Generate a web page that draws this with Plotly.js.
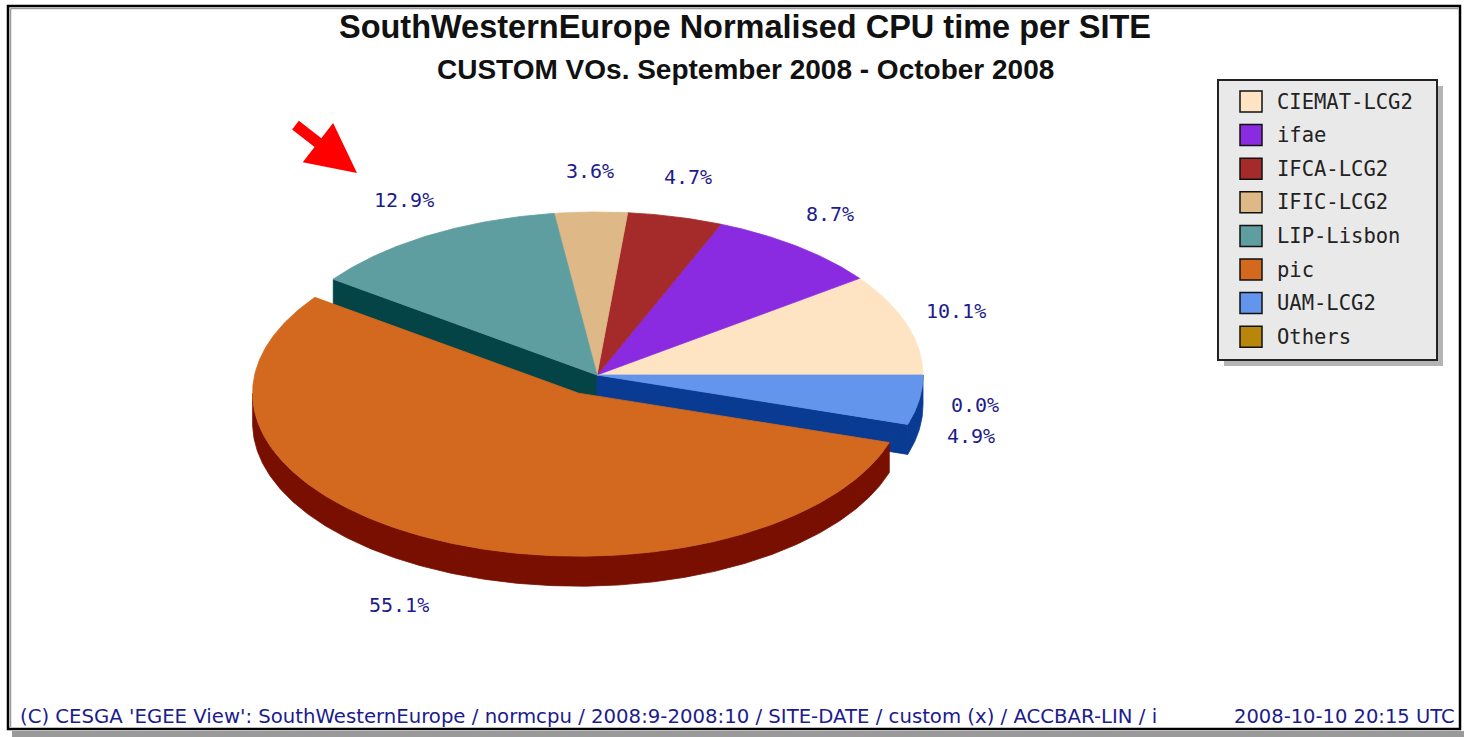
<!DOCTYPE html>
<html>
<head>
<meta charset="utf-8">
<script src="https://cdn.plot.ly/plotly-3.0.1.min.js"></script>
<style>html,body{margin:0;padding:0;background:#fff;}#chart{width:1464px;height:737px;}</style>
</head>
<body>
<div id="chart"></div>
<script>
// ---- data ----
const categories = ['CIEMAT-LCG2', 'ifae', 'IFCA-LCG2', 'IFIC-LCG2', 'LIP-Lisbon', 'pic', 'UAM-LCG2', 'Others'];
const percentValues = [10.1, 8.7, 4.7, 3.6, 12.9, 55.1, 4.9, 0.0];
const sliceColors = ['#ffe4c4', '#8a2be2', '#a52a2a', '#deb887', '#5f9ea0', '#d2691e', '#6495ed', '#b8860b'];
const explodedSlice = 'pic';
const titleText = 'SouthWesternEurope Normalised CPU time per SITE';
const subtitleText = 'CUSTOM VOs. September 2008 - October 2008';
const footerLeft = "(C) CESGA 'EGEE View': SouthWesternEurope / normcpu / 2008:9-2008:10 / SITE-DATE / custom (x) / ACCBAR-LIN / i";
const footerRight = '2008-10-10 20:15 UTC';

// ---- geometry (style) ----
const W = 1464, H = 737;
const CX = 597, CY = 375, RX = 326, RY = 163, DEPTH = 30, EXP = 0.125;
const LRX = 378, LRY = 204;

function darken(hex, d) {
  const n = parseInt(hex.slice(1), 16);
  const r = Math.max(0, ((n >> 16) & 255) - d), g = Math.max(0, ((n >> 8) & 255) - d), b = Math.max(0, (n & 255) - d);
  return 'rgb(' + r + ',' + g + ',' + b + ')';
}
const rad = a => a * Math.PI / 180;
function pt(a, off, dz) {
  return [CX + off[0] + RX * Math.cos(rad(a)), CY + off[1] - RY * Math.sin(rad(a)) + (dz || 0)];
}
function arc(a0, a1, off, dz) {
  const n = Math.max(2, Math.ceil((a1 - a0) / 0.5));
  const out = [];
  for (let i = 0; i <= n; i++) out.push(pt(a0 + (a1 - a0) * i / n, off, dz));
  return out;
}

const total = percentValues.reduce((s, v) => s + v, 0);
const slices = [];
let acc = 0;
percentValues.forEach((v, i) => {
  const a0 = acc / total * 360;
  acc += v;
  const a1 = acc / total * 360;
  const m = (a0 + a1) / 2;
  const ex = categories[i] === explodedSlice;
  const off = ex ? [EXP * RX * Math.cos(rad(m)), -EXP * RY * Math.sin(rad(m))] : [0, 0];
  slices.push({ i, v, a0, a1, m, ex, off, name: categories[i], color: sliceColors[i], side: darken(sliceColors[i], 90) });
});

function poly(points, color, name) {
  return {
    type: 'scatter', mode: 'lines', fill: 'toself', fillcolor: color,
    x: points.map(p => p[0]), y: points.map(p => p[1]),
    line: { color: color, width: 0.8 }, hoverinfo: 'skip', showlegend: false, name: name
  };
}

const wallTraces = [], rimTraces = [], topTraces = [];
slices.forEach((s, k) => {
  if (s.v <= 0) return;
  const prev = slices[(k - 1 + slices.length) % slices.length];
  const next = slices[(k + 1) % slices.length];
  // walls exposed by an exploded neighbour
  if (Math.cos(rad(s.a0)) > 0 && (s.ex || prev.ex)) {
    const c = [CX + s.off[0], CY + s.off[1]], e = pt(s.a0, s.off);
    wallTraces.push(poly([c, e, [e[0], e[1] + DEPTH], [c[0], c[1] + DEPTH], c], s.side, s.name));
  }
  if (Math.cos(rad(s.a1)) < 0 && (s.ex || next.ex)) {
    const c = [CX + s.off[0], CY + s.off[1]], e = pt(s.a1, s.off);
    wallTraces.push(poly([c, e, [e[0], e[1] + DEPTH], [c[0], c[1] + DEPTH], c], s.side, s.name));
  }
  // rim (front half 180..360)
  const r0 = Math.max(s.a0, 180), r1 = Math.min(s.a1, 360);
  if (r1 > r0) {
    const topArc = arc(r0, r1, s.off, 0);
    const botArc = arc(r0, r1, s.off, DEPTH).reverse();
    rimTraces.push(poly(topArc.concat(botArc, [topArc[0]]), s.side, s.name));
  }
  // top face
  const c = [CX + s.off[0], CY + s.off[1]];
  topTraces.push(poly([c].concat(arc(s.a0, s.a1, s.off, 0), [c]), s.color, s.name));
});

const traces = wallTraces.concat(rimTraces, topTraces);

// ---- annotations ----
const labelFont = { family: 'DejaVu Sans Mono, monospace', size: 20, color: '#1c1c8e' };
const annotations = slices.map(s => {
  let x = CX + LRX * Math.cos(rad(s.m)) + s.off[0] * (s.ex ? 1.5 : 1);
  let y = CY - LRY * Math.sin(rad(s.m)) + s.off[1];
  if (s.m > 180) y += DEPTH;
  return { x, y, xref: 'x', yref: 'y', text: s.v.toFixed(1) + '%', showarrow: false,
           xanchor: 'center', yanchor: 'middle', font: labelFont };
});

annotations.push({
  x: 745, y: 69, xref: 'x', yref: 'y', text: '<b>' + subtitleText + '</b>', showarrow: false,
  xanchor: 'center', yanchor: 'middle', font: { family: 'Liberation Sans, Arial, sans-serif', size: 28, color: '#111' }
});
annotations.push({
  x: 18, y: 716, xref: 'x', yref: 'y', text: footerLeft, showarrow: false,
  xanchor: 'left', yanchor: 'middle', font: { family: 'DejaVu Sans, sans-serif', size: 19.7, color: '#1c1c8e' }
});
annotations.push({
  x: 1457, y: 716, xref: 'x', yref: 'y', text: footerRight, showarrow: false,
  xanchor: 'right', yanchor: 'middle', font: { family: 'DejaVu Sans, sans-serif', size: 19.5, color: '#1c1c8e' }
});
// red arrow
annotations.push({
  x: 357, y: 173, xref: 'x', yref: 'y', ax: 294, ay: 124, axref: 'x', ayref: 'y',
  text: '', showarrow: true, arrowcolor: '#ff0000', arrowwidth: 11, arrowhead: 2, arrowsize: 0.9, standoff: 0
});

// ---- legend (manual) ----
const LX0 = 1218, LY0 = 80, LX1 = 1437, LY1 = 360, LSTEP = 33.6, LFIRST = 101.5;
const shapes = [
  { type: 'rect', xref: 'x', yref: 'y', x0: 12, y0: 731, x1: 1464, y1: 737, fillcolor: '#9a9a9a', line: { width: 0 }, layer: 'above' },
  { type: 'rect', xref: 'x', yref: 'y', x0: 8, y0: 6, x1: 1460, y1: 729, fillcolor: 'rgba(0,0,0,0)', line: { color: '#000', width: 2.5 }, layer: 'above' },
  { type: 'line', xref: 'x', yref: 'y', x0: 10.5, y0: 8.5, x1: 10.5, y1: 727, line: { color: '#9a9a9a', width: 1.5 }, layer: 'above' },
  { type: 'line', xref: 'x', yref: 'y', x0: 10.5, y0: 8.5, x1: 1458, y1: 8.5, line: { color: '#9a9a9a', width: 1.5 }, layer: 'above' },
  { type: 'rect', xref: 'x', yref: 'y', x0: LX0 + 6, y0: LY0 + 6, x1: LX1 + 6, y1: LY1 + 6, fillcolor: '#b4b4b4', line: { width: 0 }, layer: 'below' },
  { type: 'rect', xref: 'x', yref: 'y', x0: LX0, y0: LY0, x1: LX1, y1: LY1, fillcolor: '#e9e9e9', line: { color: '#222', width: 2 }, layer: 'below' }
];
categories.forEach((name, i) => {
  const yc = LFIRST + i * LSTEP;
  shapes.push({ type: 'rect', xref: 'x', yref: 'y', x0: 1240, y0: yc - 10.5, x1: 1262, y1: yc + 10.5,
                fillcolor: sliceColors[i], line: { color: '#111', width: 1.5 }, layer: 'above' });
  annotations.push({ x: 1275, y: yc, xref: 'x', yref: 'y', text: name, showarrow: false, xanchor: 'left', yanchor: 'middle',
                     font: { family: 'DejaVu Sans Mono, monospace', size: 20.5, color: '#222' } });
});

const layout = {
  width: W, height: H,
  margin: { l: 0, r: 0, t: 0, b: 0, pad: 0 },
  paper_bgcolor: '#ffffff', plot_bgcolor: '#ffffff',
  title: { text: '<b>' + titleText + '</b>', x: 745 / W, xanchor: 'center', y: 1 - 27 / H, yanchor: 'middle', yref: 'container',
           font: { family: 'Liberation Sans, Arial, sans-serif', size: 32.5, color: '#111' } },
  xaxis: { range: [0, W], visible: false, fixedrange: true },
  yaxis: { range: [H, 0], visible: false, fixedrange: true },
  showlegend: false,
  shapes: shapes,
  annotations: annotations
};

Plotly.newPlot('chart', traces, layout, { displayModeBar: false, staticPlot: true });
</script>
</body>
</html>
